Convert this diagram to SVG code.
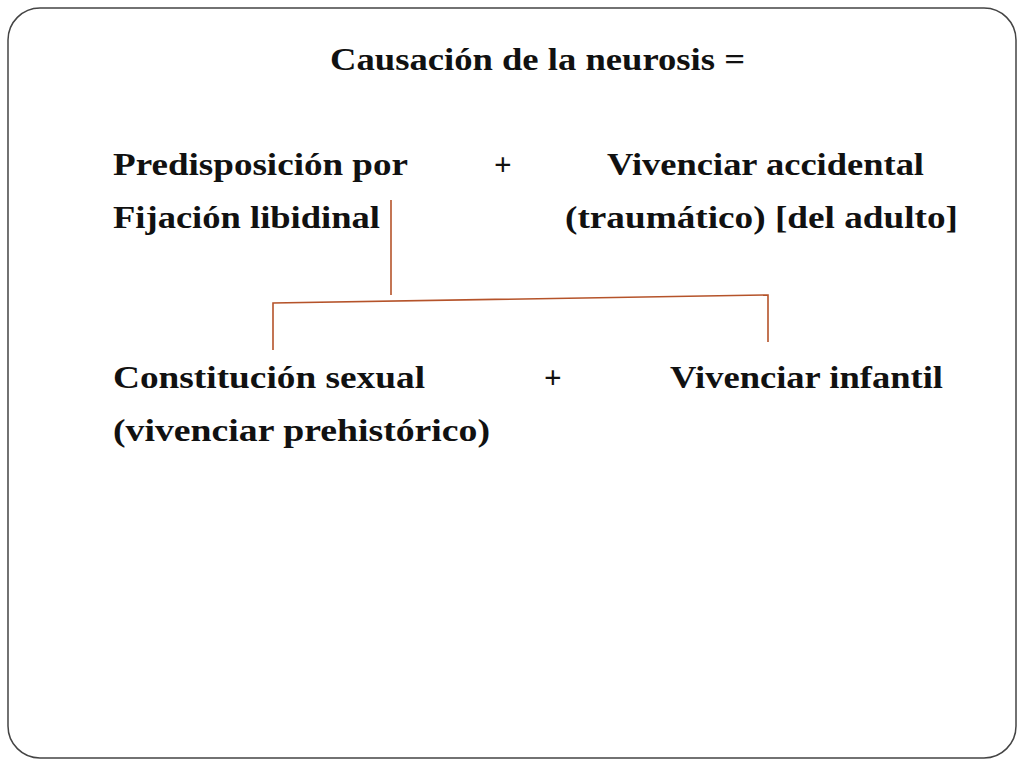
<svg xmlns="http://www.w3.org/2000/svg" width="1024" height="768" viewBox="0 0 1024 768">
<style>
text{font-family:"Liberation Serif","Times New Roman",serif;font-weight:bold;font-size:31px;fill:#111}
.c{stroke:#b5532a;stroke-width:1.6;fill:none}
</style>
<rect x="0" y="0" width="1024" height="768" fill="#fff"/>
<rect x="8" y="8" width="1008" height="750" rx="32" fill="#fff" stroke="#444" stroke-width="1.5"/>
<g id="title"><text x="330" y="70" textLength="415" lengthAdjust="spacingAndGlyphs">Causación de la neurosis =</text></g>
<g id="n1"><text x="113" y="175" textLength="295" lengthAdjust="spacingAndGlyphs">Predisposición por</text><text x="113" y="228" textLength="267" lengthAdjust="spacingAndGlyphs">Fijación libidinal</text></g>
<g id="p1"><text x="494" y="175">+</text></g>
<g id="n2"><text x="607" y="175" textLength="317" lengthAdjust="spacingAndGlyphs">Vivenciar accidental</text><text x="565" y="228" textLength="393" lengthAdjust="spacingAndGlyphs">(traumático) [del adulto]</text></g>
<g id="n3"><text x="113" y="388" textLength="312" lengthAdjust="spacingAndGlyphs">Constitución sexual</text><text x="113" y="441" textLength="377" lengthAdjust="spacingAndGlyphs">(vivenciar prehistórico)</text></g>
<g id="p2"><text x="544" y="388">+</text></g>
<g id="n4"><text x="670" y="388" textLength="273" lengthAdjust="spacingAndGlyphs">Vivenciar infantil</text></g>
<g id="connectors" class="c">
<path d="M391 200 V295"/>
<path d="M273 350 V303 L768 295 V342"/>
</g>
</svg>
